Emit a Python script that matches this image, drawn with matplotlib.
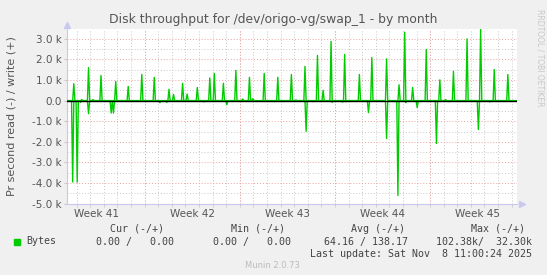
import numpy as np
import matplotlib
matplotlib.use("Agg")
import matplotlib.pyplot as plt

# days relative to start of week 42, values in bytes/s
write_days = [-5.16, -4.64, -4.13, -3.80, -3.17, -2.14, -1.18, -0.22, 0.74, 1.84, 2.14, 2.80,
              3.17, 3.86, 4.79, 5.16, 5.82, 6.71, 7.18, 7.74, 7.96, 8.80, 9.80, 10.79,
              11.13, 11.79, 12.75, 13.12, 13.71, 14.74, 15.77, 16.73, 17.76, 18.72, 19.14,
              19.75, 20.71, 21.74, 22.16, 22.70, 23.73, 24.69, 25.70, 26.68]
write_vals = [820, 50, 1600, 50, 1220, 930, 690, 1270, 1130, 550, 300, 840,
              320, 640, 1100, 1320, 840, 1470, 80, 1130, 100, 1320, 1130, 1270,
              30, 1660, 2190, 500, 2870, 2240, 1270, 2090, 2030, 770, 3320,
              640, 2480, 1010, 50, 1420, 3000, 3480, 1510, 1270]
read_days = [-5.31, -4.94, -4.74, -4.10, -2.42, -2.30, 1.11, 1.60, 4.42, 6.04, 8.40, 9.56,
             11.86, 12.36, 13.78, 14.52, 14.81, 16.48, 17.76, 18.38, 18.64, 19.19,
             20.04, 21.44, 22.40, 24.54, 25.35]
read_vals = [3950, 3950, 80, 630, 600, 600, 100, 80, 60, 200, 30, 50,
             1490, 50, 80, 70, 50, 580, 1840, 50, 4600, 100,
             340, 2080, 50, 1400, 60]

week_labels = ["Week 41", "Week 42", "Week 43", "Week 44", "Week 45"]
week_starts = [-7, 0, 7, 14, 21]
y_ticks = [3000, 2000, 1000, 0, -1000, -2000, -3000, -4000, -5000]

t0, t1 = -5.70, 27.39
step = 1 / 12.0  # 2 hour rrd step
t = np.arange(t0, t1 + step, step)

def to_series(days, vals, sign):
    s = np.zeros_like(t)
    for d, v in zip(days, vals):
        s[int(round((d - t0) / step))] = sign * v
    return s

w = to_series(write_days, write_vals, 1)
r = to_series(read_days, read_vals, -1)

fig = plt.figure(figsize=(5.47, 2.75), dpi=100, facecolor="#F0F0F0")
ax = fig.add_axes([67 / 547, 1 - 203.7 / 275, (517 - 67) / 547, (203.7 - 28.5) / 275])
ax.set_facecolor("white")
ax.set_xlim(t0, t1)
ax.set_ylim(-5000, 3500)

# grid, munin style
for d in np.arange(-5, 28):
    ax.axvline(d, color="#C8C8C8", lw=0.7, ls=(0, (1, 2)), zorder=1)
for d in week_starts[1:]:
    ax.axvline(d, color="#F0A0A0", lw=0.7, ls=(0, (1, 2)), zorder=1.5)
for y in np.arange(-4500, 3501, 1000):
    ax.axhline(y, color="#C8C8C8", lw=0.7, ls=(0, (1, 2)), zorder=1)
for y in y_ticks:
    ax.axhline(y, color="#F0A0A0", lw=0.7, ls=(0, (1, 2)), zorder=1.5)

ax.plot(t, w, color="#00CC00", lw=1.0, zorder=3)
ax.plot(t, r, color="#00CC00", lw=1.0, zorder=3)
ax.axhline(0, color="black", lw=1.0, zorder=4)

for s in ["top", "right"]:
    ax.spines[s].set_visible(False)
for s in ["left", "bottom"]:
    ax.spines[s].set_color("#C8C8F0")
    ax.spines[s].set_linewidth(0.8)
ax.plot([1.01], [0], marker=">", color="#C8C8F0", ms=4, transform=ax.transAxes, clip_on=False)
ax.plot([0], [1.02], marker="^", color="#C8C8F0", ms=4, transform=ax.transAxes, clip_on=False)

ax.set_yticks(y_ticks)
ax.set_yticklabels([("%.1f k" % (v / 1000)) if v != 0 else "0.0" for v in y_ticks])
ax.set_xticks([d + 3.5 for d in week_starts])
ax.set_xticklabels(week_labels)
ax.set_xticks(np.arange(-5, 28), minor=True)
ax.tick_params(axis="both", which="major", labelsize=7.5, labelcolor="#555555", color="#C8C8C8", length=2, pad=2)
ax.tick_params(axis="x", which="major", length=0, pad=3.5)
ax.tick_params(axis="x", which="minor", length=2, color="#C8C8C8")

fig.text(273 / 547, 1 - 20 / 275, "Disk throughput for /dev/origo-vg/swap_1 - by month",
         ha="center", va="center", fontsize=8.9, color="#555555")
fig.text(11.5 / 547, 1 - 116 / 275, "Pr second read (-) / write (+)", rotation=90,
         ha="center", va="center", fontsize=8, color="#555555")
fig.text(540 / 547, 1 - 58 / 275, "RRDTOOL / TOBI OETIKER", rotation=270,
         ha="center", va="center", fontsize=5.5, color="#C8C8C8")

mono = dict(family="DejaVu Sans Mono", fontsize=7.2, color="#444444", va="center")
def ftext(x, y, s, ha="left"):
    fig.text(x / 547, 1 - y / 275, s, ha=ha, **mono)

ftext(164, 228.5, "Cur (-/+)", ha="right")
ftext(285, 228.5, "Min (-/+)", ha="right")
ftext(405, 228.5, "Avg (-/+)", ha="right")
ftext(525, 228.5, "Max (-/+)", ha="right")
ftext(26, 241.5, "Bytes")
ftext(173.5, 241.5, "0.00 /   0.00", ha="right")
ftext(291, 241.5, "0.00 /   0.00", ha="right")
ftext(408, 241.5, "64.16 / 138.17", ha="right")
ftext(532, 241.5, "102.38k/  32.30k", ha="right")
ftext(532, 254, "Last update: Sat Nov  8 11:00:24 2025", ha="right")
fig.patches.append(plt.Rectangle((14 / 547, 1 - 244.5 / 275), 6 / 547, 6 / 275,
                                 transform=fig.transFigure, color="#00CC00"))
fig.text(272.5 / 547, 1 - 266 / 275, "Munin 2.0.73", ha="center", va="center",
         fontsize=6, color="#BBBBBB")

fig.savefig("out.png", dpi=100, facecolor=fig.get_facecolor())
